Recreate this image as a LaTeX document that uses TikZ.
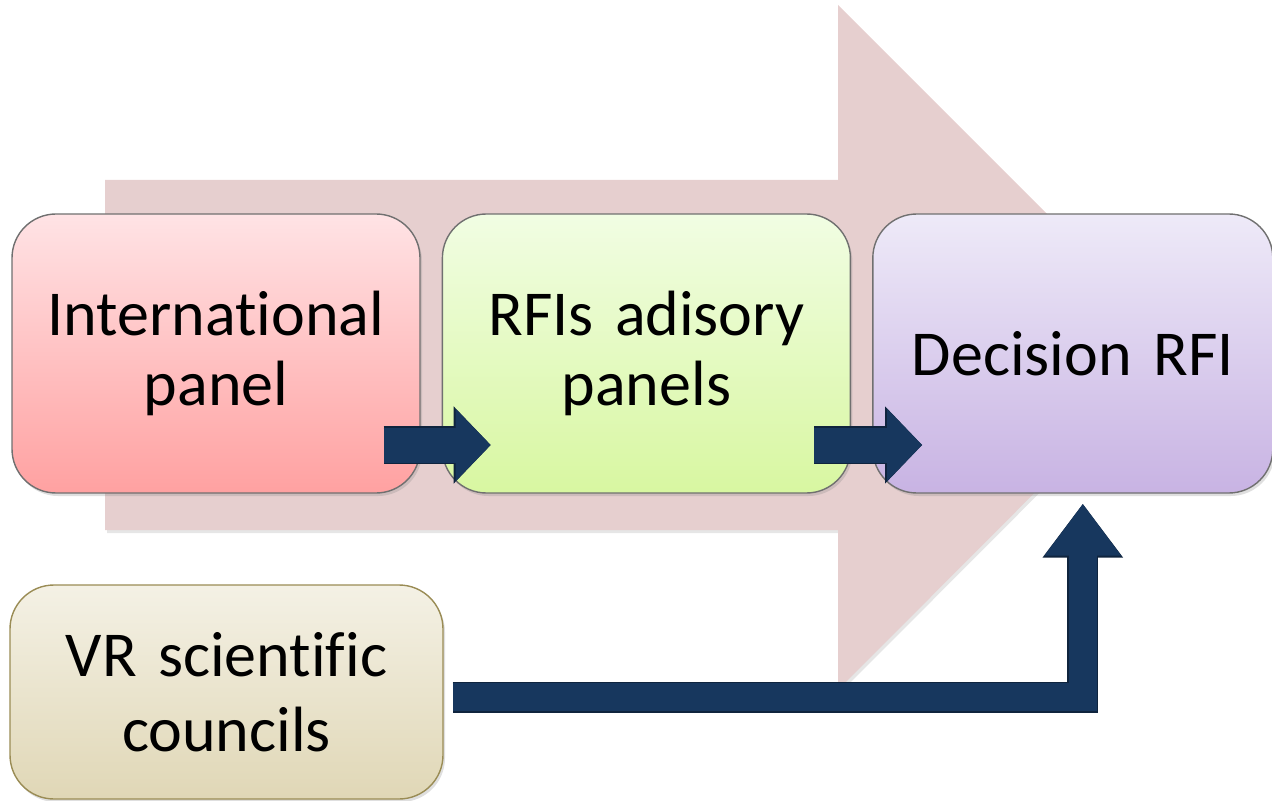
\documentclass[tikz,border=0pt]{standalone}
\usepackage{fontspec}
\setmainfont{Carlito}
\newfontfamily\panelfont{Carlito}[Ligatures=NoCommon]
\newcommand\nolig{\kern0pt{}}
\usepackage{tikz}
\usetikzlibrary{positioning, arrows.meta, shadows}
\definecolor{bigarrow}{HTML}{E6CFCF}
\definecolor{navy}{HTML}{17375E}
\definecolor{navyline}{HTML}{0F243E}
\definecolor{boxline}{HTML}{707070}
\definecolor{vrline}{HTML}{9A8C55}
\tikzset{>=Triangle, node distance = 10.5pt}

\begin{document}
\begin{tikzpicture}[x=0.5pt, y=-0.5pt,
panel_box/.style={rectangle, rounded corners=22pt, draw=boxline, line width=0.7pt, minimum width=204pt, minimum height=139.5pt, text width=190pt, align=center, font=\panelfont\fontsize{32}{35}\selectfont, drop shadow={opacity=0.25, shadow xshift=1pt, shadow yshift=-1.5pt}},
block_arrow/.style={navy, line width=17.5pt, -{Triangle[width=35pt, length=17.5pt]}, preaction={draw=navyline, line width=19pt, -{Triangle[width=37.5pt, length=18.5pt]}}},
bent_arrow/.style={navy, line width=14pt, line join=miter, -{Triangle[width=36.5pt, length=26pt]}, preaction={draw=navyline, line width=15.5pt, line join=miter, -{Triangle[width=38.5pt, length=27pt]}}}]
    \useasboundingbox (0,0) rectangle (1272,801);

    % background arrow
    \fill[bigarrow, drop shadow={opacity=0.2, shadow xshift=1pt, shadow yshift=-1.5pt}] (105,180) -- (838,180) -- (838,5) -- (1180,347) -- (838,690) -- (838,530) -- (105,530) -- cycle;

    \node[panel_box, top color={rgb,255:red,255;green,227;blue,229}, bottom color={rgb,255:red,255;green,161;blue,161}] (intl) at (216,353.5) {Internat\nolig ional\\panel};
    \node[panel_box, right=of intl, top color={rgb,255:red,241;green,253;blue,227}, bottom color={rgb,255:red,216;green,247;blue,161}] (rfi) {RFIs adisory\\panels};
    \node[panel_box, right=of rfi, minimum width=200pt, top color={rgb,255:red,238;green,234;blue,248}, bottom color={rgb,255:red,200;green,179;blue,227}] (decision) {Decision RFI};

    \node[panel_box, draw=vrline, minimum width=216.5pt, minimum height=107pt, font=\panelfont\fontsize{32}{37.5}\selectfont, top color={rgb,255:red,244;green,241;blue,229}, bottom color={rgb,255:red,224;green,215;blue,182}] (vr) at (226.5,692) {VR scient\nolig if\nolig ic\\councils};

    \draw[block_arrow] ([xshift=-18.5pt, yshift=-45.75pt]intl.east) -- ([xshift=24.5pt, yshift=-45.75pt]rfi.west);
    \draw[block_arrow] ([xshift=-18.5pt, yshift=-45.75pt]rfi.east) -- ([xshift=25pt, yshift=-45.75pt]decision.west);
    \draw[bent_arrow] ([xshift=4.5pt, yshift=-2.5pt]vr.east) -| ([xshift=5pt, yshift=-5pt]decision.south);
\end{tikzpicture}
\end{document}
